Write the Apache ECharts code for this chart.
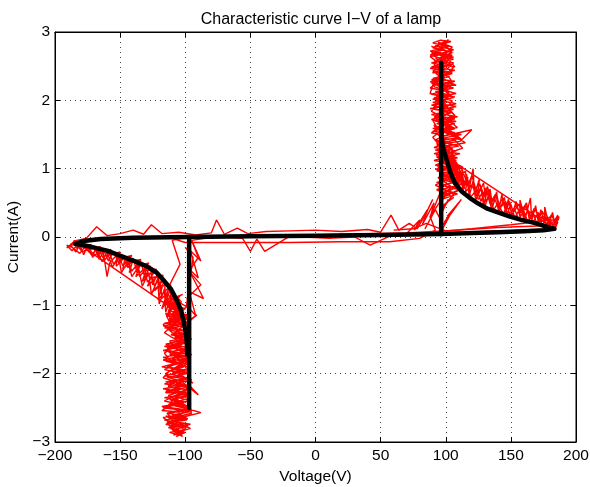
<!DOCTYPE html>
<html>
<head>
<meta charset="utf-8">
<script src="https://cdn.jsdelivr.net/npm/echarts@6/dist/echarts.min.js"></script>
<style>
html,body{margin:0;padding:0;background:#fff;}
#chart{width:590px;height:487px;}
</style>
</head>
<body>
<div id="chart"></div>
<script>
// ---- Axis ticks ----
var xTicks = [-200, -150, -100, -50, 0, 50, 100, 150, 200];
var yTicks = [-3, -2, -1, 0, 1, 2, 3];

var redUpSpike = [
 [95,0.62],[104,0.71],[93,0.80],[106,0.86],[97,0.92],[110,1.01],[92,1.05],[103,1.14],[94,1.18],[108,1.26],[91,1.31],[101,1.37],[96,1.44],[112,1.50],[90,1.55],[105,1.61],[93,1.66],[107,1.73],[89,1.79],[102,1.84],[95,1.90],[108,1.95],[90,2.02],[104,2.07],[92,2.13],[106,2.18],[89,2.25],[100,2.30],[94,2.36],[105,2.41],[88,2.47],[103,2.52],[91,2.58],[106,2.63],[89,2.70],[99,2.74],[93,2.80],[104,2.86],[96,2.88],
 [90,2.84],[102,2.78],[88,2.72],[105,2.66],[95,2.61],[101,2.55],[89,2.49],[107,2.44],[93,2.38],[99,2.33],[88,2.27],[104,2.21],[96,2.16],[108,2.10],[91,2.04],[100,1.98],[89,1.93],[106,1.87],[94,1.81],[109,1.76],[92,1.70],[103,1.64],[90,1.59],[107,1.53],[97,1.47],[120,1.57],[111,1.40],[93,1.35],[105,1.29],[91,1.22],[109,1.16],[95,1.10],[113,1.03],[93,0.97],[107,0.91],[96,0.84],[114,0.78],[98,0.70],[109,0.63],[97,0.55],
 [103,0.66],[94,0.74],[111,0.82],[95,0.95],[104,1.08],[91,1.12],[106,1.20],[94,1.28],[110,1.33],[92,1.42],[99,1.48],[90,1.52],[106,1.58],[95,1.68],[108,1.69],[91,1.76],[105,1.82],[88,1.88],[101,1.92],[97,2.00],[107,2.05],[89,2.09],[102,2.15],[93,2.22],[107,2.28],[90,2.32],[105,2.39],[92,2.45],[100,2.50],[89,2.55],[106,2.60],[94,2.67],[102,2.72],[90,2.77],[97,2.83],[101,2.87],
 [92,2.80],[106,2.74],[90,2.65],[99,2.60],[104,2.52],[90,2.43],[103,2.35],[89,2.30],[106,2.24],[95,2.12],[103,2.02],[90,1.97],[108,1.91],[95,1.86],[100,1.78],[89,1.72],[107,1.66],[93,1.60],[110,1.46],[94,1.40],[102,1.32],[92,1.27],[111,1.22],[97,1.15],[104,1.06],[92,0.99],[109,0.95],[96,0.88],[112,0.86],[101,0.77],[93,0.69],[106,0.58],[99,0.48],[96,0.32],[102,0.55],[98,0.40],
 [97,0.52],[100,0.68],[92,0.76],[99,0.83],[105,0.80],[95,0.98],[101,1.02],[108,1.12],[96,1.21],[93,1.16],[104,1.36],[97,1.30],[90,1.46],[101,1.62],[107,1.58],[96,1.74],[92,1.69],[99,1.91],[106,1.80],[93,2.06],[97,2.18],[104,2.12],[91,2.20],[99,2.38],[95,2.30],[106,2.48],[92,2.62],[98,2.56],[104,2.70],[89,2.79],[95,2.74],[102,2.89],
 [98,2.76],[88,2.66],[96,2.70],[103,2.58],[107,2.49],[94,2.53],[90,2.40],[98,2.45],[104,2.30],[100,2.19],[91,2.28],[88,2.10],[97,2.05],[105,1.99],[101,1.90],[93,1.95],[89,1.84],[96,1.77],[103,1.70],[109,1.60],[98,1.57],[91,1.64],[94,1.50],[100,1.39],[107,1.42],[113,1.30],[104,1.24],[96,1.31],[93,1.19],[99,1.07],[106,1.01],[102,0.92],[94,0.87],[104,0.74],[111,0.70],[100,0.60],[95,0.70],[98,0.44],
 [101,0.50],[107,0.66],[96,0.62],[110,0.74],[103,0.90],[98,0.82],[94,1.04],[102,1.14],[109,1.06],[99,1.26],[93,1.38],[100,1.44],[112,1.43],[104,1.55],[94,1.58],[90,1.71],[100,1.70],[107,1.78],[97,1.96],[92,2.00],[103,2.08],[98,2.23],[108,2.22],[96,2.34],[91,2.42],[101,2.46],[106,2.55],[93,2.57],[88,2.64],[100,2.68],[105,2.78],[94,2.85],[99,2.80],
 [105,2.70],[96,2.63],[91,2.52],[101,2.40],[94,2.27],[88,2.18],[99,2.14],[106,2.04],[96,2.00],[90,1.88],[100,1.84],[104,1.74],[95,1.62],[89,1.52],[99,1.53],[107,1.47],[115,1.38],[104,1.34],[96,1.25],[109,1.22],[101,1.12],[93,1.06],[107,0.98],[112,0.92],[100,0.88],[95,0.78],[108,0.70],[115,0.72],[102,0.62],[97,0.58]
];
var redUpTail = [
 [100,1.25],[106,0.95],[104,1.18],[110,0.85],[108,1.10],[114,0.78],[112,1.02],[118,0.70],[121,1.00],[122,0.62],[126,0.86],[124,0.58],[129,0.79],[131,0.50],[134,0.70],[136,0.44],[139,0.66],[141,0.40],[143,0.62],[146,0.36],[148,0.55],[151,0.31],[154,0.52],[157,0.30],[157,0.54],[161,0.27],[165,0.57],[166,0.24],[169,0.46],[171,0.22],[173,0.40],[176,0.20],[176,0.44],[179,0.18],[182,0.36],[184,0.16],[186,0.32],[183,0.22],[187,0.28],[181,0.14],
 [178,0.30],[174,0.17],[171,0.36],[167,0.21],[163,0.40],[160,0.24],[158,0.45],[153,0.28],[150,0.48],[147,0.33],[145,0.58],[141,0.37],[138,0.55],[135,0.42],[132,0.68],[129,0.46],[127,0.74],[123,0.54],[121,0.82],[118,0.60],[116,0.92],[113,0.66],[112,0.95],[109,0.74],[108,1.05],[104,0.80],[105,1.30],
 [103,0.98],[109,0.80],[106,1.12],[113,0.74],[117,0.88],[115,0.66],[120,0.76],[125,0.55],[128,0.65],[130,0.45],[133,0.60],[137,0.40],[140,0.50],[144,0.34],[147,0.45],[150,0.30],[153,0.40],[156,0.26],[160,0.38],[163,0.22],[167,0.34],[170,0.20],[174,0.30],[177,0.18],[180,0.26],[183,0.14],[186,0.22],[184,0.12],
 [102,1.15],[107,1.00],[111,1.05],[110,0.88],[115,0.96],[117,0.75],[120,0.90],[124,0.64],[126,0.78],[130,0.58],[132,0.74],[135,0.52],[138,0.62],[141,0.46],[143,0.55],[147,0.42],[149,0.52],[152,0.36],[156,0.48],[159,0.33],[161,0.46],[165,0.30],[168,0.42],[172,0.28],[174,0.38],[178,0.24],[181,0.32],[185,0.20],[187,0.30],[185,0.26],
 [181,0.20],[177,0.33],[172,0.24],[169,0.40],[164,0.27],[162,0.50],[157,0.35],[154,0.46],[149,0.34],[146,0.52],[142,0.43],[139,0.60],[134,0.48],[131,0.72],[127,0.52],[124,0.70],[119,0.58],[117,0.84],[113,0.70],[111,0.98],[107,0.84],[106,1.20],[102,0.96],[103,1.40]
];
var redUpBase = [[70,0.05],[80,0.25],[76,0.10],[86,0.40],[82,0.18],[91,0.50],[88,0.28],[95,0.62],[97,0.10],[104,0.35],[99,0.22],[108,0.45],[101,0.30],[112,0.55],[98,0.18],[92,0.40],[84,0.12]];
var redLowSpike = [
 [-104,-1.00],[-113,-1.08],[-98,-1.14],[-110,-1.20],[-101,-1.27],[-116,-1.33],[-97,-1.38],[-108,-1.45],[-100,-1.50],[-115,-1.57],[-96,-1.62],[-111,-1.68],[-103,-1.74],[-117,-1.80],[-98,-1.86],[-109,-1.92],[-101,-1.97],[-116,-2.03],[-95,-2.09],[-107,-2.14],[-99,-2.20],[-114,-2.26],[-97,-2.31],[-110,-2.37],[-102,-2.43],[-118,-2.48],[-96,-2.54],[-108,-2.60],[-100,-2.65],[-114,-2.71],[-98,-2.77],[-110,-2.82],[-103,-2.88],[-107,-2.92],
 [-100,-2.86],[-112,-2.80],[-96,-2.74],[-116,-2.68],[-101,-2.63],[-88,-2.57],[-99,-2.51],[-113,-2.45],[-96,-2.40],[-107,-2.34],[-99,-2.28],[-117,-2.22],[-97,-2.17],[-90,-2.31],[-103,-2.11],[-114,-2.05],[-96,-1.99],[-109,-1.94],[-100,-1.88],[-115,-1.82],[-97,-1.77],[-106,-1.71],[-98,-1.65],[-113,-1.59],[-96,-1.53],[-108,-1.47],[-101,-1.41],[-114,-1.35],[-99,-1.29],[-111,-1.23],[-96,-1.17],[-107,-1.11],[-100,-1.05],[-112,-0.98],[-104,-0.92],
 [-114,-1.02],[-101,-1.10],[-109,-1.17],[-97,-1.25],[-117,-1.30],[-102,-1.36],[-111,-1.43],[-95,-1.49],[-105,-1.55],[-116,-1.60],[-99,-1.67],[-112,-1.72],[-96,-1.79],[-108,-1.85],[-118,-1.90],[-100,-1.95],[-110,-2.01],[-97,-2.07],[-115,-2.12],[-102,-2.18],[-111,-2.24],[-96,-2.29],[-116,-2.35],[-100,-2.41],[-107,-2.47],[-95,-2.52],[-113,-2.58],[-99,-2.63],[-111,-2.69],[-97,-2.75],[-113,-2.79],[-101,-2.85],[-109,-2.90],[-104,-2.78],
 [-115,-2.74],[-98,-2.66],[-110,-2.61],[-95,-2.55],[-117,-2.50],[-103,-2.44],[-112,-2.38],[-97,-2.33],[-109,-2.27],[-100,-2.20],[-116,-2.15],[-98,-2.08],[-106,-2.02],[-96,-1.96],[-114,-1.90],[-101,-1.83],[-110,-1.78],[-95,-1.72],[-117,-1.66],[-103,-1.61],[-112,-1.55],[-97,-1.48],[-109,-1.42],[-91,-1.14],[-104,-1.31],[-116,-1.26],[-98,-1.20],[-111,-1.13],[-101,-1.06],[-115,-0.97],[-106,-0.88],
 [-103,-0.95],[-109,-1.10],[-99,-1.19],[-106,-1.28],[-113,-1.24],[-104,-1.42],[-98,-1.48],[-112,-1.52],[-107,-1.64],[-100,-1.70],[-117,-1.76],[-105,-1.84],[-97,-1.92],[-110,-1.99],[-103,-2.08],[-113,-2.18],[-98,-2.24],[-108,-2.32],[-116,-2.40],[-101,-2.46],[-95,-2.58],[-109,-2.64],[-115,-2.62],[-103,-2.74],[-96,-2.80],[-106,-2.86],[-111,-2.76],[-102,-2.92],
 [-109,-2.84],[-114,-2.72],[-99,-2.68],[-105,-2.56],[-118,-2.54],[-108,-2.42],[-97,-2.36],[-103,-2.26],[-115,-2.28],[-111,-2.12],[-99,-2.06],[-94,-2.14],[-106,-1.98],[-116,-1.94],[-102,-1.80],[-96,-1.84],[-109,-1.70],[-114,-1.62],[-101,-1.56],[-96,-1.44],[-110,-1.40],[-117,-1.28],[-103,-1.18],[-97,-1.30],[-108,-1.06],[-113,-0.94],[-102,-0.84],
 [-110,-0.90],[-99,-1.02],[-105,-1.14],[-115,-1.12],[-110,-1.34],[-97,-1.40],[-103,-1.58],[-114,-1.66],[-106,-1.78],[-96,-1.70],[-101,-1.90],[-112,-1.96],[-117,-2.06],[-104,-2.14],[-96,-2.20],[-105,-2.30],[-112,-2.44],[-98,-2.48],[-104,-2.60],[-117,-2.64],[-110,-2.74],[-99,-2.78],[-105,-2.90],[-112,-2.86],
 [-101,-2.82],[-108,-2.70],[-114,-2.58],[-97,-2.50],[-106,-2.38],[-113,-2.32],[-100,-2.24],[-95,-2.12],[-108,-2.10],[-115,-2.00],[-105,-1.88],[-98,-1.80],[-112,-1.80],[-116,-1.70],[-104,-1.52],[-98,-1.58],[-111,-1.46],[-116,-1.40],[-106,-1.22],[-99,-1.16],[-113,-1.16],[-110,-1.00],[-104,-0.86]
];
var redLowTail = [
 [-104,-1.00],[-112,-1.30],[-106,-0.90],[-114,-1.18],[-109,-0.80],[-118,-1.05],[-112,-0.72],[-121,-0.92],[-116,-0.62],[-125,-0.80],[-120,-0.55],[-129,-0.72],[-124,-0.48],[-133,-0.65],[-129,-0.42],[-138,-0.58],[-134,-0.38],[-143,-0.52],[-140,-0.33],[-148,-0.47],[-146,-0.29],[-153,-0.43],[-152,-0.25],[-158,-0.38],[-160,-0.58],[-163,-0.22],[-166,-0.33],[-169,-0.16],[-171,-0.30],[-175,-0.13],[-178,-0.26],[-181,-0.11],[-184,-0.22],[-188,-0.12],[-191,-0.16],[-186,-0.08],
 [-183,-0.17],[-178,-0.09],[-174,-0.22],[-170,-0.13],[-167,-0.28],[-163,-0.17],[-159,-0.35],[-155,-0.22],[-151,-0.38],[-147,-0.27],[-144,-0.45],[-140,-0.31],[-137,-0.52],[-134,-0.36],[-131,-0.60],[-127,-0.42],[-125,-0.70],[-121,-0.52],[-119,-0.82],[-116,-0.62],[-115,-0.95],[-111,-0.74],[-112,-1.10],[-108,-0.86],[-109,-1.25],[-105,-0.96],
 [-110,-1.05],[-107,-0.88],[-115,-0.85],[-111,-0.70],[-120,-0.72],[-117,-0.56],[-127,-0.60],[-122,-0.47],[-132,-0.50],[-128,-0.38],[-139,-0.45],[-134,-0.33],[-146,-0.38],[-141,-0.27],[-153,-0.33],[-150,-0.22],[-160,-0.27],[-157,-0.18],[-168,-0.24],[-165,-0.14],[-176,-0.20],[-172,-0.11],[-183,-0.16],[-180,-0.08],[-189,-0.13],[-185,-0.06],
 [-106,-1.10],[-110,-0.95],[-113,-1.02],[-114,-0.82],[-118,-0.90],[-119,-0.68],[-123,-0.78],[-125,-0.58],[-129,-0.66],[-131,-0.48],[-135,-0.58],[-137,-0.40],[-141,-0.50],[-144,-0.34],[-148,-0.42],[-151,-0.28],[-155,-0.40],[-158,-0.24],[-162,-0.34],[-166,-0.20],[-170,-0.28],[-174,-0.16],[-179,-0.22],[-183,-0.12],[-187,-0.20],[-191,-0.12],
 [-186,-0.16],[-181,-0.24],[-177,-0.14],[-172,-0.26],[-168,-0.18],[-164,-0.36],[-160,-0.22],[-156,-0.44],[-151,-0.30],[-149,-0.52],[-144,-0.36],[-141,-0.58],[-136,-0.44],[-133,-0.72],[-128,-0.52],[-126,-0.84],[-121,-0.62],[-120,-0.98],[-116,-0.76],[-115,-1.10],[-111,-0.88],[-112,-1.24],[-107,-1.02]
];
var redLowBase = [[-95,-0.05],[-88,-0.35],[-96,-0.20],[-90,-0.60],[-98,-0.45],[-86,-0.90],[-97,-0.80],[-92,-1.15],[-99,-1.00],[-94,-0.30],[-100,-0.15]];
var redBaseA = [[-186,-0.06],[-176,-0.02],[-168,0.15],[-160,0.02],[-150,0.05],[-140,0.10],[-132,0.04],[-126,0.18],[-118,0.05],[-105,0.07],[-92,0.03],[-80,0.06],[-76,0.25],[-70,0.04],[-60,0.13],[-52,0.05],[-38,0.08],[-20,0.09],[0,0.10],[20,0.08],[40,0.11],[50,0.07],[58,0.32],[64,0.10],[72,0.20],[78,0.12],[85,0.35],[90,0.55]];
var redBaseB = [[184,0.12],[160,0.10],[130,0.08],[110,0.06],[97,0.03],[80,0.02],[60,0.04],[42,-0.12],[30,0.0],[10,-0.02],[-20,0.01],[-39,-0.21],[-45,-0.03],[-50,-0.21],[-56,-0.02],[-70,0.0],[-85,-0.02],[-95,-0.05],[-90,-0.3],[-97,-0.5],[-88,-0.7],[-99,-0.9]];
var redBaseC = [[-188,-0.1],[-170,-0.05],[-150,-0.02],[-130,0.0],[-110,-0.02],[-100,-0.08],[-60,-0.08],[-20,-0.08],[20,-0.07],[57,-0.07],[80,-0.02],[92,0.1],[88,0.3],[95,0.5]];
var redBaseD = [[186,0.2],[170,0.16],[140,0.14],[110,0.10],[90,0.08],[70,0.06],[40,0.05],[0,0.03],[-40,0.02],[-80,0.01],[-98,0.0],[-110,-0.05],[-104,-0.4],[-112,-0.7]];
var redBaseE = [[187,0.26],[150,0.18],[120,0.12],[100,0.09],[85,0.2],[75,0.12],[60,0.10]];

// ---- Model (black) curve ----
var blackUpVertical = [[96.5,0.04],[96.5,2.55]];
var blackLoop = [[96.5,1.76],[96.8,1.45],[98,1.30],[100.7,1.13],[103.5,0.95],[107,0.79],[112,0.67],[118.6,0.57],[125,0.49],[131.4,0.42],[140,0.36],[149.3,0.30],[158,0.25],[167.2,0.21],[176,0.16],[183.5,0.12],[175,0.10],[160,0.085],[140,0.07],[120,0.06],[96.5,0.045],[50,0.03],[0,0.02],[-50,0.01],[-97,0.0],[-140,-0.01],[-165,-0.03],[-178,-0.06],[-184.6,-0.10],[-173,-0.14],[-160,-0.2],[-147.6,-0.29],[-138,-0.36],[-129.6,-0.43],[-122,-0.52],[-116.8,-0.63],[-111,-0.76],[-106.6,-0.92],[-103.5,-1.06],[-101.5,-1.21],[-99.8,-1.38],[-98.9,-1.51],[-98.5,-1.72]];
var blackLowVertical = [[-97,-2.5],[-97,0]];

var FONT = '"Liberation Sans", Arial, Helvetica, sans-serif';
function fmt(v){ return String(v).replace('-', '\u2212'); }

var redGroups = [redUpSpike, redUpTail, redUpBase, redLowSpike, redLowTail, redLowBase, redBaseA, redBaseB, redBaseC, redBaseD, redBaseE];
var blackGroups = [blackUpVertical, blackLoop, blackLowVertical];

var series = [];
redGroups.forEach(function(d){
  series.push({type:'line', data:d, symbol:'none', silent:true,
    lineStyle:{color:'#ff0000', width:1.4}, xAxisIndex:0, yAxisIndex:0, z:2});
});
blackGroups.forEach(function(d){
  series.push({type:'line', data:d, symbol:'none', silent:true,
    lineStyle:{color:'#000000', width:4.5, cap:'round', join:'round'}, xAxisIndex:0, yAxisIndex:0, z:3});
});

var tickStyle = {show:true, inside:true, length:5, lineStyle:{color:'#000', width:1}};
var gridLine = {show:true, lineStyle:{color:'#444', width:1, type:[1,4]}};

var chart = echarts.init(document.getElementById('chart'), null, {renderer:'canvas'});
chart.setOption({
  animation:false,
  backgroundColor:'#fff',
  title:{text:'Characteristic curve I\u2212V of a lamp', left:316, textAlign:'center', top:7,
    textStyle:{fontFamily:FONT, fontSize:16, fontWeight:'normal', color:'#000'}},
  grid:{left:55, right:14, top:32, bottom:45, containLabel:false, outerBoundsMode:'none',
    show:true, borderColor:'#000', borderWidth:1, backgroundColor:'transparent'},
  xAxis:[{
    type:'value', min:xTicks[0], max:xTicks[xTicks.length-1], interval:50, position:'bottom',
    name:'Voltage(V)', nameLocation:'middle', nameGap:23,
    nameTextStyle:{fontFamily:FONT, fontSize:15.5, color:'#000'},
    axisLine:{show:true, onZero:false, lineStyle:{color:'#000', width:1}},
    axisTick:tickStyle,
    axisLabel:{fontFamily:FONT, fontSize:15.5, color:'#000', margin:6, formatter:fmt},
    splitLine:gridLine
  },{
    type:'value', min:xTicks[0], max:xTicks[xTicks.length-1], interval:50, position:'top',
    axisLine:{show:true, onZero:false, lineStyle:{color:'#000', width:1}},
    axisTick:tickStyle, axisLabel:{show:false}, splitLine:{show:false}
  }],
  yAxis:[{
    type:'value', min:yTicks[0], max:yTicks[yTicks.length-1], interval:1, position:'left',
    name:'Current(A)', nameLocation:'middle', nameGap:21, nameRotate:90,
    nameTextStyle:{fontFamily:FONT, fontSize:15.5, color:'#000'},
    axisLine:{show:true, onZero:false, lineStyle:{color:'#000', width:1}},
    axisTick:tickStyle,
    axisLabel:{fontFamily:FONT, fontSize:15.5, color:'#000', margin:5, formatter:fmt},
    splitLine:gridLine
  },{
    type:'value', min:yTicks[0], max:yTicks[yTicks.length-1], interval:1, position:'right',
    axisLine:{show:true, onZero:false, lineStyle:{color:'#000', width:1}},
    axisTick:tickStyle, axisLabel:{show:false}, splitLine:{show:false}
  }],
  series:series
});
</script>
</body>
</html>
